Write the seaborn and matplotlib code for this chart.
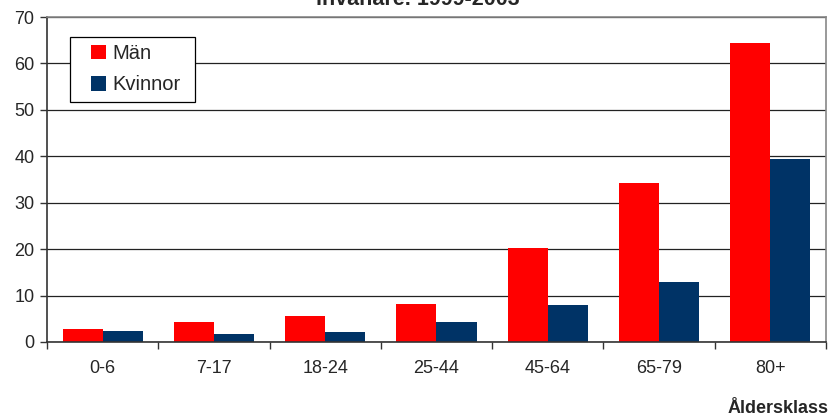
import matplotlib
matplotlib.use("Agg")
import matplotlib.pyplot as plt
from matplotlib.patches import Rectangle
import seaborn as sns
import pandas as pd
import numpy as np

categories = ["0-6", "7-17", "18-24", "25-44", "45-64", "65-79", "80+"]
man = [2.8, 4.3, 5.6, 8.2, 20.2, 34.3, 64.4]
kvinnor = [2.4, 1.7, 2.2, 4.3, 8.0, 12.9, 39.4]
series_names = ["Män", "Kvinnor"]
colors = ["#FF0000", "#003366"]
yticks = [0, 10, 20, 30, 40, 50, 60, 70]

df = pd.DataFrame({
    "kat": categories * 2,
    "val": man + kvinnor,
    "serie": [series_names[0]] * len(categories) + [series_names[1]] * len(categories),
})

sns.set_theme(style="white")
plt.rcParams["font.family"] = ["Liberation Sans", "DejaVu Sans"]

W, H = 832, 418
fig = plt.figure(figsize=(W/100, H/100), dpi=100)
ax = fig.add_axes([47/W, 1-342/H, (826-47)/W, (342-17)/H])

sns.barplot(data=df, x="kat", y="val", hue="serie", order=categories,
            hue_order=series_names, palette=colors, width=0.72,
            saturation=1, ax=ax, linewidth=0, edgecolor="none", errorbar=None)

ax.set_xlim(-0.5, len(categories) - 0.5)
ax.set_ylim(0, 70)
ax.set_yticks(yticks)
ax.set_yticklabels([str(t) for t in yticks], fontsize=13)
ax.yaxis.grid(True, color="#222222", linewidth=0.9)
ax.set_axisbelow(True)
ax.set_xlabel("")
ax.set_ylabel("")

ax.set_xticks(range(len(categories)))
ax.set_xticklabels(categories, fontsize=13)
ax.set_xticks(np.arange(-0.5, len(categories), 1.0), minor=True)
ax.tick_params(axis="x", which="major", length=0, pad=13)
ax.tick_params(axis="x", which="minor", length=5, width=1, color="#333333", direction="out", bottom=True)
ax.tick_params(axis="y", which="major", length=5, width=1, color="#333333", direction="out", left=True, pad=4)

for side in ["left", "bottom"]:
    ax.spines[side].set_color("#333333")
    ax.spines[side].set_linewidth(1.2)
for side in ["top", "right"]:
    ax.spines[side].set_color("#888888")
    ax.spines[side].set_linewidth(1.2)

# legend frame box
box = Rectangle((70/W, 1-102/H), 125/W, 65/H, transform=fig.transFigure,
                facecolor="white", edgecolor="black", linewidth=0.9, zorder=4, clip_on=False)
ax.add_patch(box)
leg = ax.legend(loc="upper left", bbox_to_anchor=((91-47)/779, 1-(44-17)/325),
                fontsize=14.5, frameon=False, borderpad=0, borderaxespad=0,
                handlelength=0.72, handleheight=0.72,
                handletextpad=0.35, labelspacing=0.62)
leg.set_zorder(10)

fig.text(418/W, 1-5/H, "invånare. 1999-2003", ha="center", va="baseline",
         fontsize=15.5, fontweight="bold")
fig.text(829/W, 1-413/H, "Åldersklass", ha="right", va="baseline",
         fontsize=13, fontweight="bold")

fig.savefig("out.png", dpi=100)
